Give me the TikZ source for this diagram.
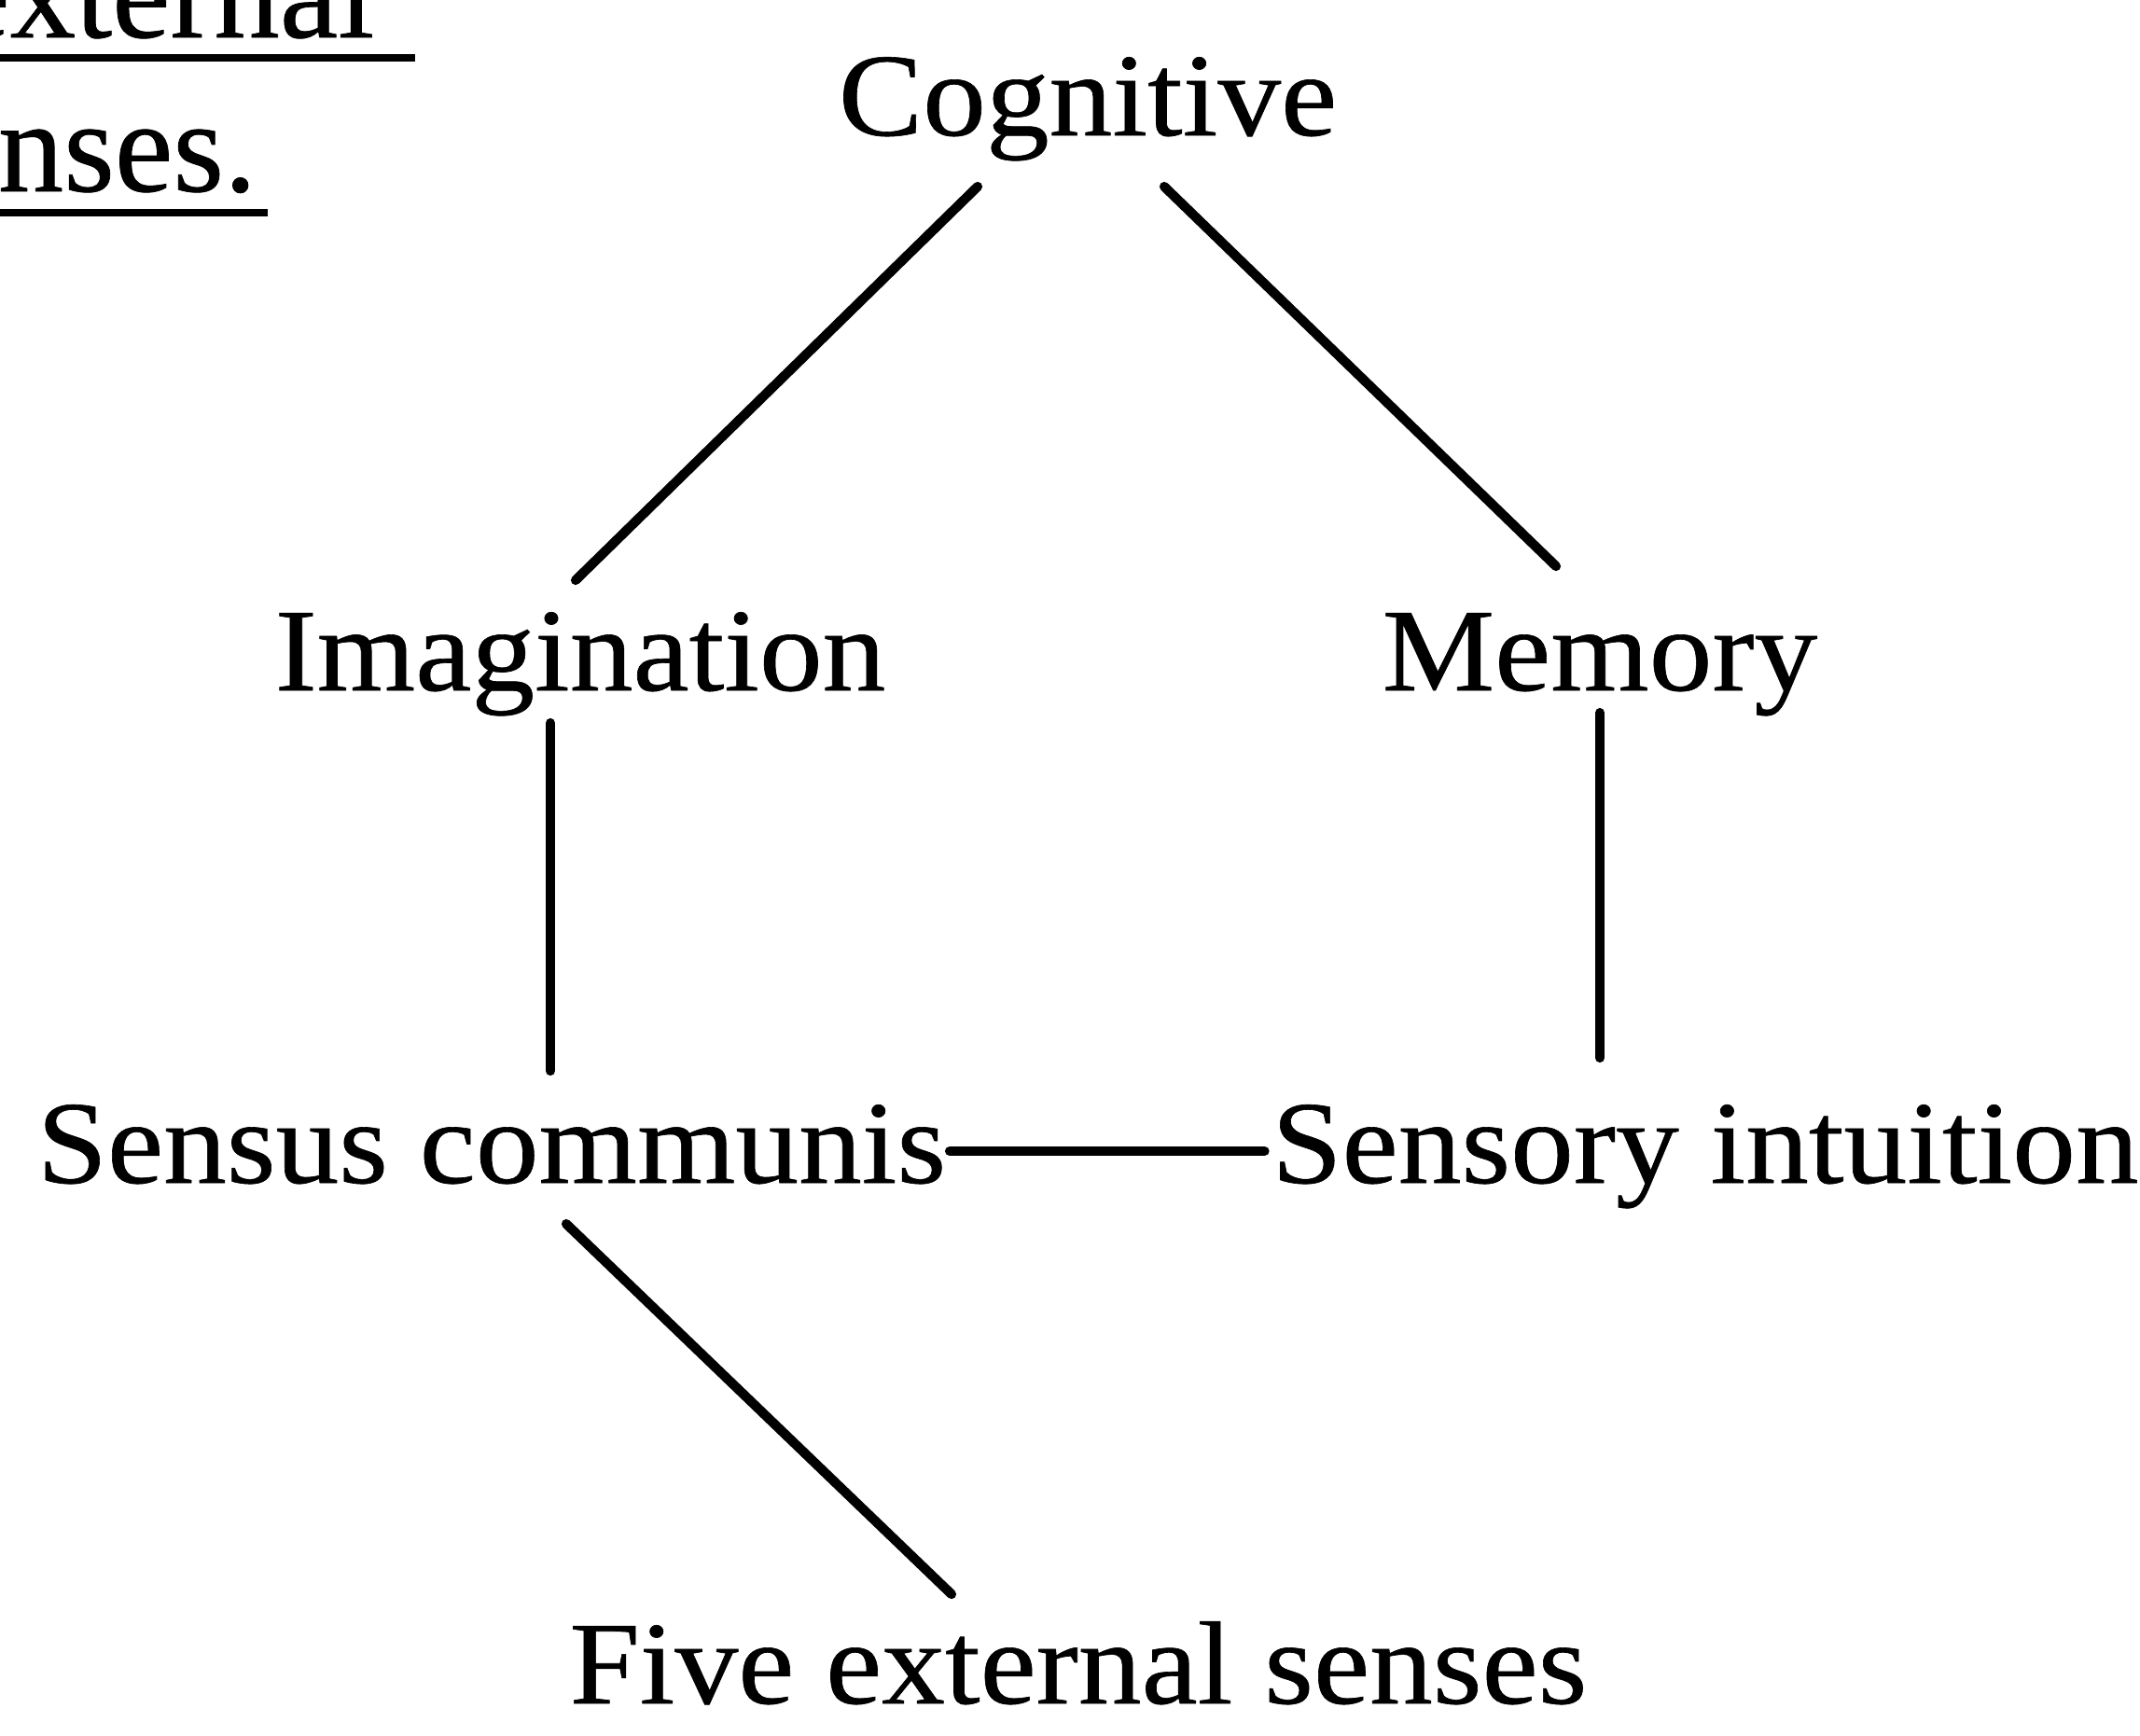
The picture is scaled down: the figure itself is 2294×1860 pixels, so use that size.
\documentclass[tikz,border=0pt]{standalone}
\usepackage{fontspec}
\setmainfont{Liberation Serif}[FakeStretch=1.07,FakeBold=0.5]
\newfontfamily\headfont{Liberation Serif}[FakeBold=0.5]
\usetikzlibrary{calc}
\begin{document}
\begin{tikzpicture}[x=0.01cm,y=-0.01cm,
  lbl/.style={anchor=base,inner sep=0pt,font=\fontsize{36pt}{42pt}\selectfont},
  head/.style={anchor=base east,inner sep=0pt,font=\headfont\fontsize{40pt}{46pt}\selectfont},
  uline/.style={line width=2.1pt},
  conn/.style={line width=2.9pt,line cap=round}]
\useasboundingbox (0,0) rectangle (2294,1860);
\clip (0,0) rectangle (2294,1860);
\fill[white] (0,0) rectangle (2294,1860);
% partial heading at top left
\node[head] (ext) at (402,40) {external};
\node[head] (sen) at (276,205) {senses.};
\draw[uline] ($(ext.base east)+(-500,22)$) -- ($(ext.base east)+(43,22)$);
\draw[uline] ($(sen.base east)+(-400,23)$) -- ($(sen.base east)+(11,23)$);
% nodes
\node[lbl] (cog) at (1166,145) {Cognitive};
\node[lbl] (ima) at (622,740) {Imagination};
\node[lbl] (mem) at (1715,740) {Memory};
\node[lbl] (sc) at (527,1268) {Sensus communis};
\node[lbl] (si) at (1828,1268) {Sensory intuition};
\node[lbl] (five) at (1156,1826) {Five external senses};
% connectors
\draw[conn] ($(cog.base)+(-118,55)$) -- ($(ima.base)+(-5,-118)$);
\draw[conn] ($(cog.base)+(82,55)$) -- ($(mem.base)+(-47,-133)$);
\draw[conn] ($(ima.base)+(-32,35)$) -- ($(sc.base)+(63,-120)$);
\draw[conn] ($(mem.base)+(0,24)$) -- ($(si.base)+(-113,-134)$);
\draw[conn] ($(sc.base east)+(3,-34)$) -- ($(si.base west)+(-7,-34)$);
\draw[conn] ($(sc.base)+(80,44)$) -- ($(five.base)+(-136,-117)$);
\end{tikzpicture}
\end{document}
